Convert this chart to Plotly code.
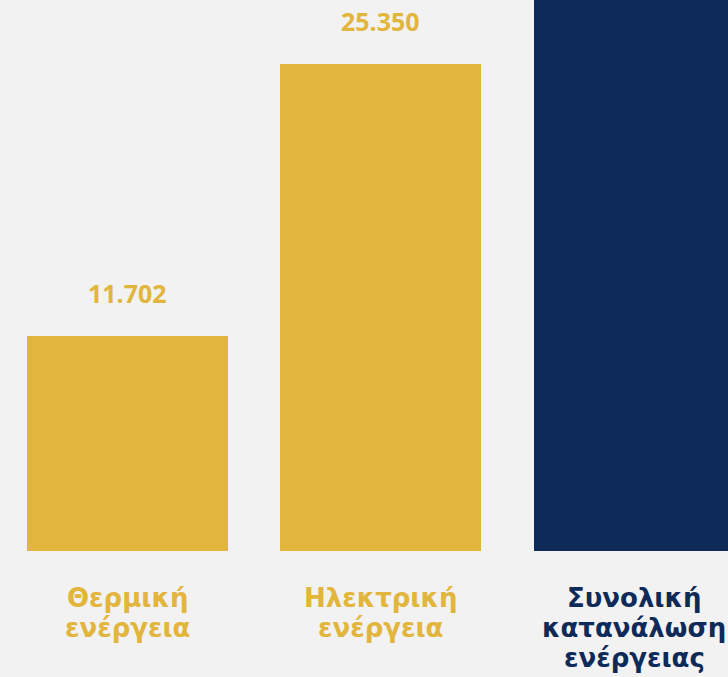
import plotly.graph_objects as go

categories = ["Θερμική<br>ενέργεια", "Ηλεκτρική<br>ενέργεια", "Συνολική<br>κατανάλωση<br>ενέργειας"]
values = [11702, 25350, 37052]
value_labels = ["11.702", "25.350", "37.052"]
bar_colors = ["#E2B53C", "#E2B53C", "#0E2A59"]

BG = "#F2F2F2"
FONT = "Noto Sans"
LABEL_FONT = "DejaVu Sans"
LABEL_SIZE = 26
LINE_STEP = 30      # px between label baselines
FIRST_LINE = 47     # px below the axis to the centre of the first label line

xpos = list(range(len(categories)))

fig = go.Figure()
fig.add_trace(go.Bar(
    x=xpos,
    y=values,
    marker=dict(color=bar_colors, line=dict(width=0)),
    width=0.793,
    hoverinfo="skip",
))

# value labels above the bars
for i, (v, t, c) in enumerate(zip(values, value_labels, bar_colors)):
    fig.add_annotation(
        x=i, y=v, xref="x", yref="y", text=f"<b>{t}</b>", showarrow=False,
        yanchor="bottom", yshift=24,
        font=dict(family=FONT, size=25, color=c),
    )

# category labels below the bars, one annotation per line for tight spacing
for i, (cat, c) in enumerate(zip(categories, bar_colors)):
    for j, line in enumerate(cat.split("<br>")):
        fig.add_annotation(
            x=i, y=0, xref="x", yref="paper", text=f"<b>{line}</b>", showarrow=False,
            yanchor="middle", yshift=-(FIRST_LINE + j * LINE_STEP),
            font=dict(family=LABEL_FONT, size=LABEL_SIZE, color=c),
        )

fig.update_layout(
    width=728, height=677,
    margin=dict(l=0, r=0, t=0, b=126, pad=0),
    paper_bgcolor=BG, plot_bgcolor=BG,
    showlegend=False,
    bargap=0,
    xaxis=dict(
        range=[-0.503, 2.369],
        tickvals=xpos,
        showticklabels=False,
        showgrid=False, zeroline=False, showline=False, ticks="",
        automargin=False,
    ),
    yaxis=dict(
        range=[914, 28560],
        visible=False,
        showgrid=False, zeroline=False,
    ),
)

fig.write_html("out.html", config={"displayModeBar": False},
               post_script="document.body.style.margin='0';")
